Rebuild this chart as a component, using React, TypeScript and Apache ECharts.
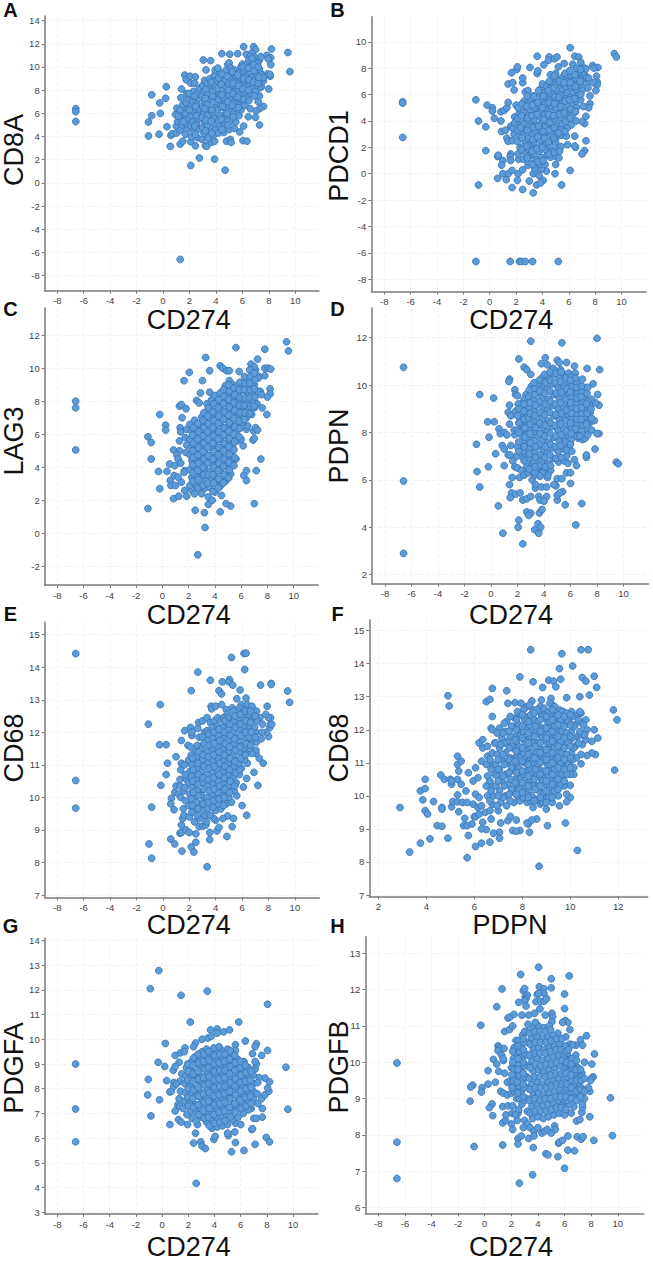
import React, { useEffect, useRef } from "react";
import * as echarts from "echarts";

const FONT = "'Liberation Sans', Arial, sans-serif";
const cd274Ticks = [-8, -6, -4, -2, 0, 2, 4, 6, 8, 10];
const pdpnTicks = [2, 4, 6, 8, 10, 12];
const ticksA = [-8, -6, -4, -2, 0, 2, 4, 6, 8, 10, 12, 14];
const ticksB = [-8, -6, -4, -2, 0, 2, 4, 6, 8, 10];
const ticksC = [-2, 0, 2, 4, 6, 8, 10, 12];
const ticksD = [2, 4, 6, 8, 10, 12];
const ticksE = [7, 8, 9, 10, 11, 12, 13, 14, 15];
const ticksF = [7, 8, 9, 10, 11, 12, 13, 14, 15];
const ticksG = [3, 4, 5, 6, 7, 8, 9, 10, 11, 12, 13, 14];
const ticksH = [6, 7, 8, 9, 10, 11, 12, 13];

const cd8a = [[-6.6,6.4],[-6.6,6.15],[-6.6,5.3],[1.3,-6.6],[9.45,11.25],[9.6,9.6],[2.1,1.5],[2.75,2.15],[3.9,2.05],[4.7,1.1],[0.55,3.15],[-1.1,4.05],[-0.3,4.2],[0.6,4.1],[0.7,4.25],[1,4.3],[0.3,4.85],[-1.1,5.25],[-0.85,5.8],[-0.2,6],[-0.25,6.9],[0.2,7.3],[-0.85,7.6],[0.25,8.3],[1.4,8.1],[1.65,9.3],[1.75,8.9],[2.05,9.2],[2.45,9.15],[3.05,10.6],[3.6,10.55],[3.25,9.75],[4.45,11.15],[5.05,11.1],[5.65,11.15],[6.1,11.75],[6.85,11.75],[7,11.5],[8.2,11.55],[7.85,11],[8.15,10.8],[7.95,10.7],[8.15,10.2],[8,8.1],[8.1,9.2],[7.3,5],[7,5.65],[6.45,5.7],[6.05,3.65],[6.35,3.6],[4.8,3.6],[5.1,3.75],[5.15,3.5],[2.1,3.55],[2.45,3.2],[3.2,3.2],[3.3,3.15],[1.3,3.35],[1.5,3.6],[3.65,3.5],[3.9,3.6],[6.1,4.9],[5.8,4.4],[7.6,6.6],[7.3,6.4],[7.05,6.2],[7.2,7],[6.6,6.4],[7.3,7.5],[7.45,8.3],[7.3,8.2],[7.6,8.8],[7.9,9.4],[8.1,9.35],[7.5,9.35],[6.9,10.9],[7.3,10.6],[7.4,10.9],[6.3,11.1],[6.7,11.2],[6.6,10.9],[2.1,8.6],
[1,4.9],[1.1,5.3],[0.95,5.9],[1.05,6.45],[1.3,4.55],[1.45,5],[1.35,5.5],[1.5,5.95],[1.3,6.3],[1.5,6.75],[1.35,7.35],[1.7,4.2],[1.85,4.7],[1.75,5.15],[1.9,5.55],[1.7,6],[1.85,6.4],[1.75,6.9],[1.9,7.3],[1.8,7.7],[2.15,4],[2.3,4.4],[2.1,4.9],[2.25,5.3],[2.15,5.8],[2.3,6.2],[2.1,6.65],[2.25,7.05],[2.2,7.5],[2.3,7.9],[2.4,8.6],[2.6,3.9],[2.7,4.65],[2.55,5.1],[2.7,5.55],[2.6,5.95],[2.75,6.4],[2.55,6.85],[2.7,7.3],[2.6,7.7],[2.75,8.15],[2.95,3.75],[3.1,4.25],[3,4.75],[3.15,5.2],[2.95,5.65],[3.1,6.1],[3,6.6],[3.15,7],[2.95,7.5],[3.1,7.9],[3,8.4],[3.15,8.85],[3.4,3.85],[3.5,4.5],[3.35,4.95],[3.55,5.4],[3.4,5.85],[3.5,6.35],[3.35,6.8],[3.55,7.25],[3.4,7.7],[3.5,8.15],[3.35,8.6],[3.55,9],[3.8,4.1],[3.95,4.65],[3.8,5.1],[3.9,5.6],[3.75,6.05],[3.95,6.5],[3.8,7],[3.9,7.45],[3.75,7.9],[3.95,8.35],[3.8,8.85],[3.9,9.3],[3.95,9.75],[4.2,4.3],[4.35,4.85],[4.2,5.35],[4.3,5.8],[4.15,6.3],[4.35,6.75],[4.2,7.2],[4.3,7.7],[4.15,8.15],[4.35,8.6],[4.2,9.05],[4.3,9.5],[4.15,9.9],[4.6,4.35],[4.7,5.05],[4.55,5.55],[4.75,6],[4.6,6.5],[4.7,6.95],[4.55,7.4],[4.75,7.85],[4.6,8.35],[4.7,8.8],[4.55,9.3],[4.75,9.7],[4.9,10.2],[5,10.35],[5,4.6],[5.1,5.3],[4.95,5.8],[5.15,6.25],[5,6.7],[5.1,7.2],[4.95,7.65],[5.15,8.1],[5,8.55],[5.1,9.05],[5.2,9.5],[5.15,9.9],[5.4,4.7],[5.5,5.25],[5.35,6],[5.5,6.45],[5.4,6.95],[5.5,7.4],[5.35,7.85],[5.55,8.35],[5.4,8.8],[5.5,9.25],[5.4,9.75],[5.75,5.8],[5.9,6.3],[5.75,6.75],[5.9,7.2],[5.75,7.65],[5.95,8.1],[5.75,8.6],[5.9,9.05],[5.75,9.5],[5.9,10],[6,10.25],[6.2,6.7],[6.3,7.4],[6.15,7.85],[6.3,8.3],[6.15,8.8],[6.3,9.3],[6.15,9.7],[6.3,10.2],[6.5,10.6],[6.6,7.75],[6.7,8.2],[6.55,8.65],[6.7,9.15],[6.55,9.6],[6.7,10.05],[6.85,10.5],[6.75,10.7],[7,7.9],[7.1,8.45],[6.95,8.9],[7.1,9.4],[7,9.85],[7.15,10.3],[7.3,9.8],[7.45,9.3],[7.4,9],[7.6,9.1]];
const cd8aFill = [[2.45,4.2],[2.4,4.9],[2.5,5.8],[2.45,6.6],[2.4,7.5],[3.2,4.5],[3.25,5.4],[3.15,6.4],[3.2,7.3],[3.25,8.1],[3.7,4.3],[3.65,5.3],[3.7,6.3],[3.75,7.5],[3.65,8.7],[4.45,4.6],[4.4,5.5],[4.5,6.6],[4.45,7.6],[4.4,8.5],[4.45,9.4],[4.9,5],[4.85,6],[4.9,7],[4.95,8],[4.85,9.2],[5.3,5.7],[5.25,6.7],[5.3,7.7],[5.3,8.6],[5.25,9.6],[5.7,6.5],[5.65,7.4],[5.7,8.4],[5.65,9.3],[6.1,7.2],[6.05,8.1],[6.1,9],[6.05,10],[6.5,7.1],[6.45,8],[6.5,8.9],[6.45,9.9],[6.9,7.5],[6.85,8.7],[6.9,9.7],[6.85,10.2],[7.2,8.6],[7.25,9.1],[7.2,10],[2,6.3],[1.95,7.7],[1.55,5.3],[1.15,5.75]];

const pdcd1 = [[-6.6,5.45],[-6.6,5.35],[-6.6,2.75],[-1.05,-6.65],[1.55,-6.65],[2.25,-6.65],[2.4,-6.65],[2.7,-6.65],[3.25,-6.65],[5.2,-6.65],[9.45,9.1],[9.6,8.85],[-0.85,-0.85],[-0.3,1.75],[-1.05,5.6],[-0.2,5.2],[0.2,5],[0.2,4.75],[0.35,4.2],[-0.85,4],[-0.3,3.55],[0.85,4],[0.85,4.7],[1.1,4.8],[1.3,5],[1.4,5.4],[0.6,1.3],[0.65,1.4],[1,1],[0.9,0.65],[1,0],[0.6,-0.35],[1.4,0],[1.25,-0.45],[1.7,-1.05],[2.5,-1.2],[3.3,-1.45],[3,-0.55],[2.1,-0.5],[1.7,0.25],[2.15,0],[3.55,-0.85],[5.45,-0.85],[6.1,0.25],[1.4,6.8],[1.75,6.9],[1.85,6.35],[2.5,6.9],[2.5,7.25],[1.65,7.65],[2.05,7.9],[2.1,8.1],[3.05,8.05],[3.6,7.6],[3.65,7.8],[3.6,8.9],[4.5,8.85],[4.45,8.6],[4.9,8.7],[5.1,8.85],[5.65,8.35],[6.1,9.55],[6.45,8.9],[6.75,8.85],[6.3,8.3],[4.1,8.25],[5.2,8.1],[7.8,8.2],[8.2,8.05],[7.9,8],[8.1,7.4],[8.15,6.95],[8.15,6.75],[8.05,6.3],[7.85,6.9],[7.6,5.9],[7.6,5.3],[7.5,5],[7.3,4.35],[7.2,3.8],[7,3.95],[7.3,2.5],[7.2,1.75],[7,1.5],[6.5,2],[6.45,2.85],[6.45,2.1],[5.9,2.2],[5,0.7],[4.95,0],[4.3,0.2],[4.05,-0.5],[3.85,-0.7],[3.9,0.35],[3.3,0],[3.55,0.1],[3.75,-0.15],[2.5,0.3],[1.6,1.5],[1.55,1.3],[1.6,1],[2.2,1.1],[2.9,0.65],[0.9,3.2],[1.2,3.3],[1.3,2.7],[1.4,2.45],[1.6,3.6],[1.9,4.3],[2,5.2],[2.6,5.5],[2.7,6.2],[2.9,6.3],[3.3,5.9],
[1.7,2.5],[1.85,3],[1.75,3.45],[1.9,3.85],[2.15,1.5],[2.3,2],[2.1,2.45],[2.25,2.9],[2.15,3.3],[2.3,3.75],[2.1,4.2],[2.25,4.6],[2.15,5],[2.55,1.1],[2.7,1.6],[2.55,2.05],[2.7,2.5],[2.55,2.95],[2.7,3.35],[2.55,3.8],[2.7,4.25],[2.55,4.65],[2.7,5.1],[2.95,0.9],[3.1,1.4],[2.95,1.85],[3.1,2.25],[2.95,2.7],[3.1,3.15],[2.95,3.55],[3.1,4],[2.95,4.45],[3.1,4.85],[2.95,5.3],[3.1,5.7],[3.4,0.4],[3.5,1.05],[3.35,1.5],[3.5,1.95],[3.35,2.4],[3.55,2.8],[3.4,3.25],[3.5,3.7],[3.35,4.1],[3.55,4.55],[3.4,5],[3.5,5.4],[3.35,5.85],[3.8,0.7],[3.9,1.25],[3.75,1.7],[3.95,2.15],[3.8,2.55],[3.9,3],[3.75,3.45],[3.95,3.85],[3.8,4.3],[3.9,4.75],[3.75,5.15],[3.95,5.6],[3.8,6],[3.9,6.45],[4,6.8],[4.2,0.7],[4.35,1.4],[4.2,1.85],[4.3,2.3],[4.15,2.7],[4.35,3.15],[4.2,3.6],[4.3,4],[4.15,4.45],[4.35,4.9],[4.2,5.3],[4.3,5.75],[4.15,6.15],[4.35,6.6],[4.6,1.25],[4.7,1.75],[4.55,2.15],[4.75,2.6],[4.6,3],[4.7,3.45],[4.55,3.9],[4.75,4.3],[4.6,4.75],[4.7,5.15],[4.55,5.6],[4.75,6],[4.6,6.45],[4.7,6.9],[4.6,7.5],[5,1.3],[5.1,1.9],[5,2.4],[5.15,2.85],[5,3.3],[5.1,3.7],[4.95,4.15],[5.15,4.55],[5,5],[5.1,5.4],[4.95,5.85],[5.15,6.3],[5,6.7],[5.1,7.15],[5,7.6],[5.25,1.2],[5.4,2.05],[5.45,2.9],[5.4,3.35],[5.5,3.8],[5.35,4.25],[5.55,4.7],[5.4,5.1],[5.5,5.55],[5.35,6],[5.55,6.4],[5.4,6.85],[5.5,7.3],[5.8,2.85],[5.9,3.5],[5.75,3.95],[5.9,4.4],[5.75,4.8],[5.95,5.25],[5.75,5.7],[5.9,6.15],[5.75,6.6],[5.9,7],[5.8,7.45],[6.2,3.7],[6.3,4.5],[6.15,4.9],[6.3,5.35],[6.15,5.8],[6.3,6.2],[6.15,6.65],[6.3,7.1],[6.15,7.5],[6.55,4],[6.6,5.05],[6.55,5.5],[6.7,5.95],[6.55,6.4],[6.7,6.85],[6.55,7.25],[6.7,7.65],[6.6,8],[6.9,5.6],[7,6.3],[6.85,6.75],[7,7.2],[6.9,7.7],[7.05,8.1],[6.9,8.45],[7.1,5.1],[7.3,6.8],[7.2,7.5],[7.35,7.3],[7.3,7.95],[7.5,7.25],[7.45,6.5]];
const pdcd1Fill = [[2.4,1.8],[2.45,2.7],[2.35,3.5],[2.4,4.4],[2.45,5.3],[2.85,1.2],[2.8,2.1],[2.85,3.3],[2.9,4.2],[2.8,5.1],[2.85,5.9],[3.25,0.7],[3.2,1.7],[3.25,2.6],[3.3,3.5],[3.2,4.4],[3.25,5.2],[3.65,0.9],[3.6,1.9],[3.65,2.8],[3.7,3.6],[3.6,4.5],[3.65,5.4],[3.7,6.3],[4.05,1],[4,2],[4.05,3.2],[4.1,4.1],[4,5],[4.05,5.9],[4.5,1.5],[4.45,2.4],[4.5,3.3],[4.45,4.5],[4.5,5.4],[4.45,6.3],[4.5,7],[4.9,1.6],[4.85,2.7],[4.9,3.5],[4.85,4.4],[4.9,5.3],[4.85,6.5],[4.9,7.4],[5.3,1.7],[5.25,3.1],[5.3,4.5],[5.25,5.8],[5.3,7],[5.7,3.2],[5.65,4.6],[5.7,5.5],[5.65,6.9],[5.7,7.6],[6.1,4.2],[6.05,5.6],[6.1,6.9],[6.05,7.8],[6.5,4.7],[6.45,5.7],[6.5,6.6],[6.45,7.5],[6.9,6],[6.85,7],[6.9,7.9]];

const lag3 = [[-6.6,8],[-6.6,7.6],[-6.6,5.05],[9.45,11.6],[9.6,11.05],[5.6,11.25],[7.8,11.15],[3.3,10.65],[7.25,10.55],[4.4,10.15],[4.6,10],[3.6,9.85],[2.05,9.75],[1.65,9.25],[3.05,9.25],[4.9,9.85],[5.1,9.85],[5.85,9.8],[6.75,10.25],[7.8,10],[8.05,10],[8.25,9.95],[7.8,9.55],[8.2,8.75],[8.2,8.45],[8,8.25],[7.45,8.6],[7.6,7.6],[7.95,7.2],[-0.2,7.2],[0.25,6.55],[0.25,6.25],[-1.1,5.85],[-0.85,5.5],[-0.85,4.5],[0.55,4.2],[-0.3,3.75],[0.35,3.75],[0.6,3.2],[0.65,2.9],[1,2.9],[-0.2,2.7],[0.85,2.1],[1.25,2.25],[-1.1,1.5],[2.5,1.4],[3.2,1.25],[4.4,1.3],[3.25,0.35],[2.7,-1.3],[7,1.8],[5.2,1.65],[4.85,1.8],[3.5,1.75],[7.5,4.5],[7.15,3.8],[6.4,3.8],[6.2,3.5],[6.4,3.2],[6.9,5.65],[7,5.75],[6.95,6.2],[7.1,6.4],[7.25,6.25],[6.4,6.3],[6.5,6.5],[1.3,7.7],[1.45,7.8],[1.8,7.55],[1.5,7],[2.6,8.05],[2.9,8.5],[2.8,7.9],[3.4,7.85],[0.85,5.05],[1.3,5.6],[1.35,6.4],[1.4,6.15],[1.3,5],[1.1,4.75],[0.95,4.1],[1.2,4.5],[1.4,4.25],[1.7,3.8],[1.65,3.7],[0.9,3.5],[1.2,3.4],[1.45,3.1],[1.7,2.6],[1.85,2.25],[2.25,2.6],[2.45,2.4],[3,2.4],[3.5,2.2],[3.8,2],[4.5,2.3],[7,7.6],[7.2,7.85],[7.3,8.6],[7.55,8.4],[7,9],[6.9,9.3],[7.35,9.5],[7.1,9.9],[7.3,9.4],
[1.8,4.9],[1.85,5.35],[1.75,5.8],[1.85,6.3],[2.1,2.9],[2.25,3.4],[2.1,3.85],[2.25,4.4],[2.1,4.75],[2.25,5.2],[2.1,5.7],[2.25,6.15],[2.1,6.6],[2.5,3],[2.6,3.55],[2.45,4],[2.6,4.5],[2.45,5],[2.6,5.45],[2.45,5.95],[2.6,6.4],[2.45,6.85],[2.85,2.8],[3,3.3],[2.85,3.75],[3,4.25],[2.85,4.7],[3,5.2],[2.85,5.65],[3,6.15],[2.85,6.6],[3,7.05],[3.25,2.75],[3.35,3.5],[3.2,4],[3.35,4.5],[3.2,4.95],[3.35,5.45],[3.2,5.9],[3.35,6.4],[3.2,6.85],[3.35,7.35],[3.6,2.8],[3.75,3.3],[3.6,3.75],[3.75,4.25],[3.6,4.7],[3.75,5.2],[3.6,5.7],[3.75,6.15],[3.6,6.65],[3.75,7.1],[3.6,7.6],[3.75,8.1],[3.6,8.55],[4,2.5],[4.15,3.05],[4,3.55],[4.15,4],[4,4.5],[4.15,5],[4,5.45],[4.15,5.95],[4,6.4],[4.15,6.9],[4,7.35],[4.15,7.85],[4,8.35],[4.4,2.85],[4.55,3.3],[4.4,3.8],[4.55,4.3],[4.4,4.75],[4.55,5.25],[4.4,5.7],[4.55,6.2],[4.4,6.65],[4.55,7.15],[4.4,7.6],[4.55,8.1],[4.4,8.5],[4.8,3.15],[4.95,3.55],[4.8,4.05],[4.95,4.55],[4.8,5],[4.95,5.5],[4.8,5.95],[4.95,6.45],[4.8,6.9],[4.95,7.4],[4.8,7.85],[4.95,8.35],[4.8,8.95],[5.1,9.25],[5.2,3.6],[5.3,4.35],[5.2,4.8],[5.35,5.3],[5.2,5.75],[5.35,6.25],[5.2,6.7],[5.35,7.2],[5.2,7.65],[5.35,8.15],[5.2,8.6],[5.35,9],[5.6,4.5],[5.75,5.6],[5.6,6.1],[5.75,6.55],[5.6,7],[5.75,7.5],[5.6,7.95],[5.75,8.45],[5.6,8.9],[6,5.7],[6.15,5.3],[6.1,6.7],[6,7.2],[6.15,7.7],[6,8.15],[6.15,8.65],[6,9.1],[6.4,7],[6.55,7.5],[6.4,7.95],[6.55,8.45],[6.4,8.9],[6.55,9.2],[6.8,7.2],[6.85,8],[6.8,8.5],[6.85,9],[6.85,9.8],[7,10.1]];
const lag3Fill = [[2.3,3.15],[2.35,3.65],[2.3,4.15],[2.35,4.6],[2.3,5],[2.35,5.45],[2.3,5.95],[2.35,6.4],[2.7,2.75],[2.75,3.25],[2.7,3.8],[2.75,4.25],[2.7,4.75],[2.75,5.2],[2.7,5.7],[2.75,6.15],[2.7,6.65],[3.1,2.9],[3.15,3.55],[3.1,4],[3.15,4.5],[3.1,4.95],[3.15,5.45],[3.1,5.9],[3.15,6.4],[3.1,6.85],[3.15,7.3],[3.45,3.05],[3.5,3.55],[3.45,4.25],[3.5,4.7],[3.45,5.2],[3.5,5.7],[3.45,6.15],[3.5,6.65],[3.45,7.1],[3.5,7.6],[3.85,2.55],[3.9,3.05],[3.85,3.55],[3.9,4],[3.85,4.5],[3.9,4.95],[3.85,5.45],[3.9,5.9],[3.85,6.4],[3.9,6.85],[3.85,7.35],[3.9,7.85],[4.25,2.75],[4.3,3.3],[4.25,3.8],[4.3,4.25],[4.25,4.75],[4.3,5.2],[4.25,5.7],[4.3,6.15],[4.25,6.65],[4.3,7.1],[4.25,7.6],[4.3,8.1],[4.65,3.05],[4.7,3.55],[4.65,4.05],[4.7,4.5],[4.65,5],[4.7,5.45],[4.65,5.95],[4.7,6.4],[4.65,6.9],[4.7,7.35],[4.65,7.85],[4.7,8.3],[4.65,8.7],[5.05,3.35],[5.1,3.85],[5.05,4.3],[5.1,4.8],[5.05,5.25],[5.1,5.75],[5.05,6.2],[5.1,6.7],[5.05,7.15],[5.1,7.65],[5.05,8.1],[5.1,8.6],[5.05,9],[5.45,4.1],[5.5,4.6],[5.45,5.05],[5.5,5.55],[5.45,6],[5.5,6.45],[5.45,6.95],[5.5,7.45],[5.45,7.9],[5.5,8.4],[5.45,8.8],[5.85,5.85],[5.9,6.35],[5.85,6.8],[5.9,7.3],[5.85,7.75],[5.9,8.2],[5.85,8.7],[5.9,9.15],[6.25,6.9],[6.3,7.3],[6.25,7.75],[6.3,8.2],[6.25,8.7],[6.3,9.1],[6.25,9.5],[6.65,7.25],[6.7,7.7],[6.65,8.2],[6.7,8.7],[6.65,9.1],[6.7,9.5],[6.65,9.9],[7,7.7],[7.05,8.25],[7,8.75],[7.05,9.3],[7,9.7]];

const pdpn = [[-6.6,10.75],[-6.6,5.95],[-6.6,2.9],[9.45,6.75],[9.6,6.68],[3,11.85],[5.35,11.78],[8,11.97],[2.1,11.1],[4.1,11.15],[3.8,10.9],[4.25,10.85],[5,11.05],[5.15,10.95],[5.7,10.95],[6.3,10.8],[7.25,10.7],[8.2,10.65],[2.5,10.75],[2.7,10.65],[3,10.45],[1.4,10.25],[1.35,10.15],[-0.85,9.6],[0.2,9.45],[1.4,9.15],[1.8,9.8],[1.85,9.6],[2,9.55],[-0.25,8.45],[0.25,8.45],[1.3,8.85],[1.4,8.35],[0.6,8.15],[0.7,7.95],[1,8],[1.2,7.9],[-0.15,7.8],[-1.1,7.5],[0.85,7.45],[1,7.3],[1.5,7.45],[0.35,7.1],[1.3,7.05],[1.45,7.05],[-0.2,6.55],[1,6.6],[-1.05,6.35],[-0.85,5.7],[1.6,6.1],[2.15,6.1],[1.4,5.8],[1.55,5.45],[1.45,5.25],[1.85,5.4],[2.2,5.45],[0.55,4.9],[2.4,5.15],[2.7,5.2],[3,5.3],[3.6,5.3],[4.2,5.3],[3.7,5.15],[4,5.1],[2.7,4.65],[3,4.6],[2.85,4.5],[3.65,4.6],[3.85,4.75],[2.1,4.3],[2.05,4],[3.55,4.15],[3.75,4],[3.3,3.9],[3.6,3.75],[0.9,3.75],[2.4,3.3],[6.4,4.1],[5.6,4.95],[5,5.15],[5,5.35],[4.9,5.75],[5.4,5.5],[5.2,5.45],[6,5.85],[6.85,5],[5,6.05],[5.35,6.05],[5.7,6.3],[6,6.3],[6.45,6.6],[6.3,6.85],[7.2,6.95],[7.2,7.05],[7.85,7.3],[8.15,7.95],[8,7.95],[7.6,8.1],[7.8,8.5],[8.15,9.15],[7.9,9.25],[7.6,9.4],[8.05,9.6],[7.7,10.05],[7.1,9.9],[6.9,10.25],[3.35,5.65],[3.35,5.8],[3.8,5.7],[4.2,5.7],[4.75,5.8],[1.65,6.8],[1.8,6.55],[2,6.5],[2.3,6.4],[2.5,6.2],[2.8,6.3],[3.1,6],[3.3,6.2],[3.8,6.4],[4.3,6.35],[4.5,6.4],[4.25,6.1],[4.3,6.2],[1.8,7.9],[1.75,8.1],[2,8.1],[2.2,8.5],[1.5,8.7],[1.85,8.9],
[2.3,7],[2.25,7.45],[2.3,7.9],[2.25,8.35],[2.3,8.8],[2.25,9.2],[2.7,6.55],[2.65,7],[2.75,7.45],[2.65,7.9],[2.75,8.35],[2.65,8.8],[2.75,9.25],[2.65,9.6],[3.1,6.7],[3.05,7.2],[3.15,7.65],[3.05,8.1],[3.15,8.55],[3.05,9],[3.15,9.45],[3.05,9.95],[3.5,6.5],[3.45,6.95],[3.55,7.4],[3.45,7.85],[3.55,8.3],[3.45,8.75],[3.55,9.2],[3.45,9.65],[3.55,10.05],[3.9,6.3],[3.85,6.75],[3.95,7.2],[3.85,7.65],[3.95,8.1],[3.85,8.55],[3.95,9],[3.85,9.45],[3.95,9.9],[3.85,10.3],[4.3,6.7],[4.25,7.15],[4.35,7.6],[4.25,8.05],[4.35,8.5],[4.25,8.95],[4.35,9.4],[4.25,9.85],[4.35,10.25],[4.7,6.9],[4.65,7.35],[4.75,7.8],[4.65,8.25],[4.75,8.7],[4.65,9.15],[4.75,9.6],[4.65,10.05],[4.75,10.45],[4.7,10.7],[5.1,6.75],[5.05,7.2],[5.15,7.65],[5.05,8.1],[5.15,8.55],[5.05,9],[5.15,9.45],[5.05,9.9],[5.15,10.3],[5.25,10.65],[5.5,6.8],[5.45,7.3],[5.55,7.75],[5.45,8.2],[5.55,8.65],[5.45,9.1],[5.55,9.55],[5.45,10],[5.55,10.45],[5.9,7.4],[5.85,7.85],[5.95,8.3],[5.85,8.75],[5.95,9.2],[5.85,9.65],[5.95,10.1],[5.85,10.5],[5.7,7],[5.8,6.7],[6.3,7.95],[6.25,8.4],[6.35,8.85],[6.25,9.3],[6.35,9.75],[6.25,10.2],[6.35,10.5],[6.7,8.1],[6.65,8.55],[6.75,9],[6.65,9.45],[6.75,9.9],[7.1,8.15],[7.05,8.6],[7.15,9.05],[7.05,9.5],[7.45,8.4],[7.5,8.85],[7.45,9.15],[6.6,7.75],[6.9,7.7],[7.1,7.75]];
const pdpnFill = [[2.45,7.2],[2.5,7.65],[2.45,8.15],[2.5,8.55],[2.45,9],[2.5,9.4],[2.9,6.45],[2.85,6.9],[2.9,7.3],[2.85,7.75],[2.9,8.15],[2.85,8.6],[2.9,9.05],[2.85,9.5],[2.9,9.8],[3.3,6.3],[3.25,6.75],[3.3,7.15],[3.25,7.65],[3.3,8.05],[3.25,8.5],[3.3,8.95],[3.25,9.4],[3.3,9.85],[3.25,10.1],[3.7,6.15],[3.65,6.6],[3.7,7.05],[3.65,7.5],[3.7,7.95],[3.65,8.4],[3.7,8.85],[3.65,9.3],[3.7,9.75],[3.65,10.2],[4.1,6.55],[4.05,6.95],[4.1,7.4],[4.05,7.85],[4.1,8.3],[4.05,8.75],[4.1,9.2],[4.05,9.65],[4.1,10.1],[4.05,10.45],[4.5,6.6],[4.45,7.05],[4.5,7.5],[4.45,7.95],[4.5,8.4],[4.45,8.85],[4.5,9.3],[4.45,9.75],[4.5,10.2],[4.45,10.55],[4.9,6.9],[4.85,7.4],[4.9,7.85],[4.85,8.3],[4.9,8.75],[4.85,9.2],[4.9,9.65],[4.85,10.1],[4.9,10.5],[5.3,6.95],[5.25,7.45],[5.3,7.9],[5.25,8.35],[5.3,8.8],[5.25,9.25],[5.3,9.7],[5.25,10.15],[5.3,10.55],[5.7,7.25],[5.65,7.6],[5.7,8.05],[5.65,8.5],[5.7,8.95],[5.65,9.4],[5.7,9.85],[5.65,10.3],[6.1,7.2],[6.05,7.7],[6.1,8.15],[6.05,8.6],[6.1,9.05],[6.05,9.5],[6.1,9.95],[6.05,10.35],[6.5,7.85],[6.45,8.35],[6.5,8.75],[6.45,9.2],[6.5,9.65],[6.45,10.1],[6.9,8.3],[6.85,8.8],[6.9,9.25],[6.85,9.7],[7.3,8.4],[7.25,8.9],[7.3,9.3],[2,7.4],[2,8.7],[1.95,7],[2.05,9.2],
[2.1,7.2],[2.1,7.6],[2.1,8],[2.1,8.4],[2.1,9],[2.5,6.8],[2.5,7.4],[2.55,7.8],[2.55,8.2],[2.5,8.9],[2.5,9.2],[2.9,7.1],[2.95,7.55],[2.95,7.95],[2.95,8.35],[2.95,8.8],[2.95,9.25],[3.3,6.55],[3.35,6.95],[3.35,7.4],[3.35,8.2],[3.3,8.7],[3.35,9.15],[3.3,9.6],[6,7.5],[6.05,7.95],[6,8.4],[6.05,8.8],[6,9.25],[6,9.7],[6,10.2],[6.4,8.15],[6.5,8.55],[6.45,9],[6.5,9.45],[6.45,9.9],[6.4,10.3],[6.85,8.05],[6.8,8.55],[6.85,9.05],[6.8,9.5],[6.85,9.95],[7.2,8.35],[7.25,8.8],[7.2,9.2],[7.25,9.65],[7.6,8.6],[7.55,9],[7.3,7.9],[6.7,7.85],[7.3,9.9]];

const cd68a = [[-6.6,14.42],[-6.6,10.52],[-6.6,9.67],[9.45,13.27],[9.6,12.92],[5.2,14.3],[6.15,14.42],[6.3,14.43],[6.2,13.93],[2.65,13.85],[3.6,13.6],[4.5,13.55],[5.05,13.62],[5,13.55],[5.3,13.45],[5.85,13.3],[7.4,13.45],[8.2,13.5],[8.2,13.47],[2.15,13.28],[4.25,13.28],[4.45,13.18],[-0.2,12.85],[-1.1,12.25],[-0.25,11.62],[0.25,11.62],[1,11.25],[0.35,11.05],[0.25,10.7],[-0.15,10.37],[-0.85,9.7],[0.65,9.97],[0.6,9.8],[0.85,9.62],[0.9,10.15],[1,10.35],[1.3,10.35],[0.6,8.72],[0.9,8.57],[-1.05,8.57],[-0.85,8.13],[1.45,8.35],[2.15,8.48],[2.35,8.32],[2.5,8.62],[2.5,8.88],[3.55,8.7],[4.85,8.8],[3.35,7.87],[1.3,8.9],[1.4,8.92],[1.75,9],[2,8.92],[3.55,8.92],[4.1,8.97],[4.25,9.08],[5.25,9.1],[6.35,9.45],[5.35,9.35],[4.9,9.43],[4.55,9.35],[4,9.3],[3.85,9.35],[2.75,9.1],[3.05,9.12],[3.25,9.15],[3.3,9.25],[1.4,9.15],[1.5,9.35],[1.6,9.45],[7.2,10.37],[6.1,10.32],[6.35,10.58],[6.9,10.77],[7.3,11.2],[7.6,11.05],[7.05,11.35],[7.05,11.45],[8,11.87],[8.1,12.15],[8.15,12.25],[8.25,12.25],[7.85,12],[8.15,12.45],[8,12.45],[7.8,12.55],[7.9,12.8],[7.35,12.45],[1.4,11.75],[1.65,12.05],[2.1,12.15],[1.9,11.6],[2.1,11.55],[2.2,11.9],[2.2,12],[2.65,12.12],[2.7,12.3],[3,12.35],[3.35,12.45],[3.6,12.3],[3.9,12.35],[4.15,12.45],[3.65,12.8],[3.7,12.72],[4,12.8],[4.45,12.85],[4.8,12.7],[5.25,12.75],[5.6,13.03],[6.3,13.05],[5.95,12.85],[1.35,10.85],[1.4,11.05],[1.3,10.55],[1.6,10.2],[1.8,10.55],[1.2,10.1],[1.35,10],[1.55,9.65],
[2,9.4],[1.95,9.75],[2.05,10.1],[1.95,10.45],[2.05,10.8],[1.95,11.15],[2.4,9.25],[2.35,9.65],[2.45,10],[2.35,10.35],[2.45,10.7],[2.35,11.05],[2.45,11.4],[2.8,9.35],[2.75,9.8],[2.85,10.15],[2.75,10.5],[2.85,10.85],[2.75,11.2],[2.85,11.55],[2.75,11.85],[3.2,9.45],[3.15,9.95],[3.25,10.3],[3.15,10.65],[3.25,11],[3.15,11.35],[3.25,11.7],[3.15,12],[3.6,9.45],[3.55,9.8],[3.65,10.15],[3.55,10.5],[3.65,10.85],[3.55,11.2],[3.65,11.55],[3.55,11.9],[4,9.6],[3.95,10],[4.05,10.35],[3.95,10.7],[4.05,11.05],[3.95,11.4],[4.05,11.75],[3.95,12.1],[4.4,9.65],[4.35,9.95],[4.45,10.3],[4.35,10.65],[4.45,11],[4.35,11.35],[4.45,11.7],[4.35,12.05],[4.45,12.4],[4.8,9.8],[4.75,10.15],[4.85,10.5],[4.75,10.85],[4.85,11.2],[4.75,11.55],[4.85,11.9],[4.75,12.25],[4.85,12.55],[5.2,9.85],[5.15,10.3],[5.25,10.65],[5.15,11],[5.25,11.35],[5.15,11.7],[5.25,12.05],[5.15,12.4],[5.6,10.05],[5.55,10.45],[5.65,10.8],[5.55,11.15],[5.65,11.5],[5.55,11.85],[5.65,12.2],[5.55,12.55],[6,9.75],[5.95,10.9],[6.05,11.25],[5.95,11.6],[6.05,11.95],[5.95,12.3],[6.05,12.6],[6.4,11.05],[6.35,11.4],[6.45,11.75],[6.35,12.1],[6.45,12.45],[6.4,12.85],[6.75,11.35],[6.7,11.7],[6.8,12.05],[6.7,12.4],[6.75,12.8],[7.1,11.7],[7.05,12],[7.15,12.35],[7.1,12.65],[7.5,12],[7.55,12.25],[7.45,11.8]];
const cd68aFill = [[2.2,9.55],[2.15,9.95],[2.2,10.3],[2.15,10.65],[2.2,11],[2.15,11.3],[2.6,9.45],[2.55,9.85],[2.6,10.2],[2.55,10.55],[2.6,10.9],[2.55,11.25],[2.6,11.6],[3,9.6],[2.95,10.05],[3,10.45],[2.95,10.8],[3,11.15],[2.95,11.5],[3,11.85],[3.4,9.65],[3.35,10],[3.4,10.35],[3.35,10.7],[3.4,11.05],[3.35,11.4],[3.4,11.75],[3.35,12.05],[3.8,9.7],[3.75,10.1],[3.8,10.45],[3.75,10.8],[3.8,11.15],[3.75,11.5],[3.8,11.85],[3.75,12.15],[4.2,9.8],[4.15,10.15],[4.2,10.5],[4.15,10.85],[4.2,11.2],[4.15,11.55],[4.2,11.9],[4.15,12.2],[4.6,9.75],[4.55,10.05],[4.6,10.4],[4.55,10.75],[4.6,11.1],[4.55,11.45],[4.6,11.8],[4.55,12.15],[4.6,12.45],[5,10],[4.95,10.35],[5,10.7],[4.95,11.05],[5,11.4],[4.95,11.75],[5,12.1],[4.95,12.45],[5.4,10.2],[5.35,10.6],[5.4,10.95],[5.35,11.3],[5.4,11.65],[5.35,12],[5.4,12.35],[5.35,12.65],[5.8,10.7],[5.75,11.05],[5.8,11.4],[5.75,11.75],[5.8,12.1],[5.75,12.45],[5.8,12.75],[6.2,11.15],[6.15,11.5],[6.2,11.85],[6.15,12.2],[6.2,12.55],[6.15,12.7],[6.6,11.5],[6.55,11.85],[6.6,12.2],[6.55,12.55],[7,11.85],[6.95,12.15],[7,12.5],[1.7,9.9],[1.65,10.3],[1.7,10.7],[1.65,11],
[2.25,9.75],[2.3,10.15],[2.25,10.5],[2.3,10.85],[2.25,11.2],[2.65,9.65],[2.7,10.05],[2.65,10.4],[2.7,10.7],[2.65,11.05],[2.7,11.4],[3.05,9.8],[3.1,10.25],[3.05,10.6],[3.1,10.95],[3.05,11.3],[3.1,11.65],[3.45,9.85],[3.5,10.2],[3.45,10.55],[3.5,10.9],[3.45,11.25],[3.5,11.6],[3.45,11.95],[3.85,9.9],[3.9,10.25],[3.85,10.6],[3.9,10.95],[3.85,11.3],[3.9,11.65],[3.85,12],[4.25,9.95],[4.3,10.35],[4.25,10.7],[4.3,11.05],[4.25,11.4],[4.3,11.75],[4.25,12.1],[4.65,10],[4.7,10.25],[4.65,10.6],[4.7,10.95],[4.65,11.3],[4.7,11.65],[4.65,12],[4.7,12.35],[5.05,10.15],[5.1,10.5],[5.05,10.85],[5.1,11.2],[5.05,11.55],[5.1,11.9],[5.05,12.25],[5.45,10.35],[5.5,10.75],[5.45,11.1],[5.5,11.45],[5.45,11.8],[5.5,12.15],[5.45,12.5],[5.85,10.85],[5.9,11.2],[5.85,11.55],[5.9,11.9],[5.85,12.25],[5.9,12.55],[6.25,11.3],[6.3,11.65],[6.25,12],[6.3,12.35],[6.25,12.65],[6.65,11.6],[6.7,12],[6.65,12.3],[6.65,12.65]];

const cd68b = [[8.35,14.42],[9.65,14.3],[10.45,14.42],[10.75,14.42],[10.1,13.93],[9.55,13.85],[7.9,13.6],[8.45,13.45],[9.1,13.5],[9.3,13.47],[9.6,13.53],[9.4,13.3],[10.5,13.58],[10.65,13.47],[11,13.62],[8.85,13.28],[6.75,13.25],[7.35,13.18],[11.1,13.28],[10.4,13],[10.8,13.05],[9.85,12.97],[4.9,13.03],[4.95,12.72],[6.5,12.85],[6.65,12.92],[7.4,12.8],[7.7,12.82],[7.95,12.8],[8.4,12.87],[8.8,12.9],[9.2,12.95],[11.8,12.6],[11.95,12.3],[11,12],[11.15,11.75],[11.85,10.78],[11.05,11.25],[10.9,11.3],[10.7,11.22],[10.45,11.25],[10.45,10.97],[10.15,10.85],[10.15,10.65],[10,10.32],[10,9.95],[9.85,10.05],[9.85,9.82],[9.8,9.18],[9.55,9.7],[9.05,9.1],[8.3,8.9],[8.25,9.15],[8.2,9.18],[7.9,8.95],[7.6,8.95],[7.75,8.93],[10.3,8.35],[8.7,7.87],[5.7,8.13],[6.05,8.47],[6.3,8.57],[6.65,8.6],[7.05,8.72],[7.05,8.9],[6.8,8.87],[6.5,8.98],[6.3,9],[6.35,9.2],[6.7,9.3],[7.1,9.18],[7.4,9.25],[7.75,9.27],[7.5,9.38],[8.6,9.3],[8.4,9.27],[3.3,8.3],[3.75,8.57],[4.15,8.7],[4.9,8.72],[5.75,8.8],[4.45,9.1],[4.65,9.08],[5.55,9.1],[5.7,9.1],[5.9,9.15],[2.9,9.65],[3.95,9.55],[4.05,9.45],[4.65,9.65],[4.65,9.6],[5.35,9.52],[5.6,9.32],[6,9.37],[6.05,9.37],[3.95,10.5],[3.75,10.15],[3.95,10.22],[3.85,9.88],[4.3,9.83],[4.6,10.63],[4.75,10.5],[5.05,9.67],[5.1,9.83],[5.3,9.82],[5.3,10.03],[5.05,10.35],[5,10.5],[5.45,10.35],[5.3,10.5],[5.05,10.45],[5.65,10.15],[5.75,10.7],[5.3,10.95],[5.45,11.05],[5.3,11.2],[5.35,10.75],[5.95,10.45],[6.15,10.55],[6.05,10.85],[6.3,11.05],[6.35,11.45],[6.2,11.6],[6.35,11.7],[6.55,11.5],[6.75,12.4],[6.7,12.05],[6.75,12],[5.5,9.8],[5.7,9.8],[5.95,9.75],[6.05,10.05],[6.2,9.95],[6.15,9.65],[6.3,9.7],[6.45,9.5],[6.2,9.45],[6.65,9.55],[6.75,9.75],[7,9.55],
[6.55,10],[6.5,10.3],[6.55,10.6],[6.5,10.95],[6.55,11.2],[6.8,10],[6.75,10.3],[6.85,10.65],[6.8,10.95],[6.75,11.3],[6.85,11.6],[7.1,9.8],[7.05,10.15],[7.15,10.45],[7.05,10.8],[7.15,11.1],[7.05,11.45],[7.15,11.75],[7.05,12.05],[7.35,9.7],[7.3,10],[7.4,10.35],[7.3,10.65],[7.4,11],[7.3,11.3],[7.4,11.65],[7.3,11.95],[7.35,12.25],[7.65,9.8],[7.6,10.15],[7.7,10.5],[7.6,10.8],[7.7,11.15],[7.6,11.45],[7.7,11.8],[7.6,12.1],[7.7,12.35],[7.9,9.85],[7.85,10.2],[7.95,10.55],[7.85,10.85],[7.95,11.2],[7.85,11.5],[7.95,11.85],[7.85,12.15],[7.95,12.45],[8.2,9.8],[8.15,10.1],[8.25,10.45],[8.15,10.75],[8.25,11.1],[8.15,11.4],[8.25,11.75],[8.15,12.05],[8.25,12.4],[8.2,12.7],[8.45,9.65],[8.4,10],[8.5,10.35],[8.4,10.65],[8.5,11],[8.4,11.3],[8.5,11.65],[8.4,11.95],[8.5,12.3],[8.45,12.6],[8.75,9.75],[8.7,10.15],[8.8,10.5],[8.7,10.8],[8.8,11.15],[8.7,11.45],[8.8,11.8],[8.7,12.1],[8.8,12.45],[8.75,12.7],[9,9.6],[8.95,9.95],[9.05,10.3],[8.95,10.6],[9.05,10.95],[8.95,11.25],[9.05,11.6],[8.95,11.9],[9.05,12.25],[8.95,12.55],[9.25,9.8],[9.2,10.15],[9.3,10.5],[9.2,10.8],[9.3,11.15],[9.2,11.45],[9.3,11.8],[9.2,12.1],[9.3,12.45],[9.25,12.75],[9.5,10],[9.45,10.35],[9.55,10.65],[9.45,11],[9.55,11.3],[9.45,11.65],[9.55,11.95],[9.45,12.3],[9.55,12.6],[9.75,10.3],[9.7,10.6],[9.8,10.95],[9.7,11.25],[9.8,11.6],[9.7,11.9],[9.8,12.25],[9.7,12.55],[10,10.65],[9.95,11],[10.05,11.3],[9.95,11.65],[10.05,11.95],[9.95,12.3],[10.05,12.55],[10.25,11.15],[10.2,11.5],[10.3,11.8],[10.2,12.15],[10.3,12.45],[10.5,11.55],[10.45,11.85],[10.5,12.2],[10.45,12.5],[10.65,11.7],[10.7,12],[10.65,12.3],[10.9,11.65]];
const cd68bFill = [[6.65,9.85],[6.7,10.15],[6.65,10.45],[6.7,10.8],[6.65,11.1],[6.95,9.7],[6.9,10.3],[6.95,10.6],[6.9,10.95],[6.95,11.25],[6.9,11.6],[6.95,11.9],[7.2,9.95],[7.25,10.3],[7.2,10.6],[7.25,10.95],[7.2,11.25],[7.25,11.6],[7.2,11.9],[7.25,12.2],[7.5,9.85],[7.55,10.2],[7.5,10.5],[7.55,10.85],[7.5,11.15],[7.55,11.5],[7.5,11.8],[7.55,12.1],[7.5,12.4],[7.8,10],[7.75,10.35],[7.8,10.7],[7.75,11],[7.8,11.35],[7.75,11.65],[7.8,12],[7.75,12.3],[7.8,12.55],[8.05,9.95],[8.1,10.3],[8.05,10.65],[8.1,11],[8.05,11.3],[8.1,11.65],[8.05,11.95],[8.1,12.3],[8.05,12.6],[8.35,9.85],[8.3,10.2],[8.35,10.5],[8.3,10.85],[8.35,11.15],[8.3,11.5],[8.35,11.8],[8.3,12.15],[8.35,12.45],[8.3,12.75],[8.6,9.9],[8.65,10.3],[8.6,10.65],[8.65,10.95],[8.6,11.3],[8.65,11.6],[8.6,11.95],[8.65,12.25],[8.6,12.6],[8.85,9.8],[8.9,10.1],[8.85,10.45],[8.9,10.75],[8.85,11.1],[8.9,11.4],[8.85,11.75],[8.9,12.05],[8.85,12.4],[8.9,12.65],[9.1,9.95],[9.15,10.3],[9.1,10.6],[9.15,10.95],[9.1,11.25],[9.15,11.6],[9.1,11.9],[9.15,12.25],[9.1,12.55],[9.15,12.8],[9.35,10.15],[9.4,10.45],[9.35,10.8],[9.4,11.1],[9.35,11.45],[9.4,11.75],[9.35,12.1],[9.4,12.4],[9.35,12.7],[9.6,10.35],[9.65,10.65],[9.6,11],[9.65,11.3],[9.6,11.65],[9.65,11.95],[9.6,12.3],[9.65,12.55],[9.85,10.65],[9.9,10.95],[9.85,11.25],[9.9,11.6],[9.85,11.9],[9.9,12.25],[9.85,12.5],[10.1,11.1],[10.15,11.45],[10.1,11.75],[10.15,12.1],[10.1,12.4],[10.35,11.6],[10.4,11.95],[10.35,12.3],[10.4,12.55],[10.6,11.85],[10.55,12.15],
[7,10],[7,10.45],[7,10.8],[7,11.1],[7.1,11.55],[7.45,10.05],[7.45,10.7],[7.45,11.1],[7.45,11.45],[7.45,11.95],[8,10.1],[8,10.4],[8,10.75],[8,11.05],[8,11.45],[8,11.75],[8,12.1],[8,12.45],[8.5,9.85],[8.55,10.2],[8.5,10.5],[8.55,10.8],[8.5,11.15],[8.55,11.5],[8.5,11.8],[8.55,12.1],[8.5,12.5],[9,9.8],[9,10.15],[9,10.45],[9,10.75],[9,11.1],[9,11.4],[9,11.75],[9,12.05],[9,12.4],[9.5,10.2],[9.5,10.5],[9.5,10.85],[9.5,11.15],[9.5,11.5],[9.5,11.8],[9.5,12.15],[9.5,12.45],[10,10.85],[10,11.15],[10,11.5],[10,11.8],[10,12.15],[10,12.45],[7.75,10.05],[7.7,10.4],[7.75,10.7],[7.7,11.05],[7.75,11.35],[7.7,11.7],[7.75,12],[8.25,9.95],[8.25,10.3],[8.25,10.6],[8.25,10.95],[8.25,11.25],[8.25,11.6],[8.25,11.9],[8.25,12.25],[8.75,9.95],[8.75,10.3],[8.75,10.65],[8.75,11],[8.75,11.3],[8.75,11.6],[8.75,11.95],[8.75,12.3],[9.25,9.95],[9.25,10.35],[9.25,10.65],[9.25,11],[9.25,11.3],[9.25,11.65],[9.25,11.95],[9.25,12.3],[9.25,12.6],[9.75,10.45],[9.75,10.8],[9.75,11.1],[9.75,11.45],[9.75,11.75],[9.75,12.1],[9.75,12.4]];

const pdgfa = [[-6.6,9],[-6.6,7.18],[-6.6,5.85],[9.45,8.87],[9.6,7.17],[-0.25,12.78],[-0.9,12.05],[1.45,11.78],[3.45,11.95],[8.05,11.42],[2.15,10.7],[5.85,10.7],[3.7,10.38],[4.2,10.42],[4.2,10.25],[4.7,10.3],[5.15,10.38],[3.5,10.05],[3.75,10.12],[3.05,10],[6.35,9.93],[0.25,9.83],[2.55,9.85],[5.6,9.78],[7.2,9.82],[7.1,9.7],[8.05,9.55],[7.6,9.35],[6.9,9.42],[1,9.35],[1.4,9.45],[1.75,9.65],[1.7,9.5],[2.4,9.7],[-0.3,9.07],[0.2,8.9],[1.3,9.07],[0.85,8.75],[1,8.9],[-1.05,8.38],[0.35,8.33],[0.6,7.87],[0.7,7.9],[0.9,8.25],[0.9,8.1],[-1.1,7.75],[-0.2,7.55],[-0.85,6.9],[1,7.1],[1.2,7.35],[0.6,6.55],[1.25,6.75],[1.45,6.65],[1.95,6.55],[2.7,6.55],[2.55,6.2],[2.4,5.8],[2.95,5.85],[3.05,5.68],[3.3,5.58],[3.95,5.95],[4.05,6.07],[5.05,6.1],[5,6.2],[5.55,6.25],[5.6,5.82],[5.3,5.45],[6.25,5.5],[7.1,5.75],[7.95,6.03],[8.2,5.85],[2.6,4.17],[6.85,6.35],[6.9,6.38],[7,6.8],[7.2,6.8],[7.65,6.85],[7.65,7.2],[7.3,7.4],[7.6,7.6],[7.85,7.75],[8.15,7.9],[8.05,8.03],[8.2,8.28],[7.85,8.43],[7.4,8.45],[7.1,8.8],[7.2,9],[7.1,9.1],[1.5,8.6],[1.35,8.3],[1.1,8.2],[1.4,7.9],[1.3,7.6],[1.35,7.3],[1.6,7.2],[1.9,6.95],[2.3,6.8],[2.6,6.7],[5.6,6.6],[6,6.55],[6.8,7.2],[6.95,7.6],
[1.75,7.5],[1.8,7.85],[1.75,8.2],[1.8,8.5],[1.85,8.85],[2.2,7.1],[2.15,7.45],[2.25,7.8],[2.15,8.15],[2.25,8.45],[2.15,8.8],[2.25,9.1],[2.6,7.05],[2.55,7.35],[2.65,7.7],[2.55,8],[2.65,8.35],[2.55,8.65],[2.65,9],[2.55,9.3],[3,6.85],[2.95,7.2],[3.05,7.55],[2.95,7.85],[3.05,8.2],[2.95,8.5],[3.05,8.85],[2.95,9.15],[3.05,9.5],[3.4,6.65],[3.35,7],[3.45,7.35],[3.35,7.65],[3.45,8],[3.35,8.3],[3.45,8.65],[3.35,8.95],[3.45,9.3],[3.4,9.6],[3.8,6.4],[3.75,6.8],[3.85,7.15],[3.75,7.5],[3.85,7.85],[3.75,8.15],[3.85,8.5],[3.75,8.8],[3.85,9.15],[3.75,9.45],[4.2,6.45],[4.15,6.85],[4.25,7.2],[4.15,7.55],[4.25,7.9],[4.15,8.2],[4.25,8.55],[4.15,8.85],[4.25,9.2],[4.2,9.55],[4.6,6.5],[4.55,6.9],[4.65,7.25],[4.55,7.6],[4.65,7.95],[4.55,8.25],[4.65,8.6],[4.55,8.9],[4.65,9.25],[4.55,9.55],[5,6.55],[4.95,6.9],[5.05,7.25],[4.95,7.6],[5.05,7.95],[4.95,8.25],[5.05,8.6],[4.95,8.9],[5.05,9.25],[5,9.6],[5.4,6.75],[5.35,7.1],[5.45,7.4],[5.35,7.75],[5.45,8.1],[5.35,8.4],[5.45,8.75],[5.35,9.05],[5.45,9.35],[5.6,9.55],[5.8,6.85],[5.75,7.25],[5.85,7.6],[5.75,7.95],[5.85,8.25],[5.75,8.6],[5.85,8.9],[5.75,9.2],[6.2,7],[6.15,7.4],[6.25,7.75],[6.15,8.05],[6.25,8.4],[6.15,8.7],[6.25,9.1],[6.6,7.15],[6.55,7.5],[6.65,7.85],[6.55,8.15],[6.65,8.5],[6.6,8.85],[6.95,7.9],[7,8.2],[6.95,8.55],[7.3,8.25],[7.25,7.8]];
const pdgfaFill = [[2,7.3],[1.95,7.65],[2,8],[1.95,8.35],[2,8.7],[1.95,9],[2.4,7.25],[2.35,7.6],[2.4,7.95],[2.35,8.3],[2.4,8.6],[2.35,8.95],[2.4,9.25],[2.8,6.95],[2.75,7.35],[2.8,7.7],[2.75,8.05],[2.8,8.4],[2.75,8.7],[2.8,9.05],[2.75,9.4],[3.2,6.8],[3.15,7.1],[3.2,7.45],[3.15,7.8],[3.2,8.15],[3.15,8.45],[3.2,8.8],[3.15,9.1],[3.2,9.4],[3.6,6.5],[3.55,6.85],[3.6,7.2],[3.55,7.5],[3.6,7.85],[3.55,8.2],[3.6,8.5],[3.55,8.85],[3.6,9.15],[3.55,9.5],[4,6.6],[3.95,6.95],[4,7.35],[3.95,7.7],[4,8.05],[3.95,8.35],[4,8.7],[3.95,9],[4,9.35],[3.95,9.65],[4.4,6.65],[4.35,7.05],[4.4,7.4],[4.35,7.75],[4.4,8.1],[4.35,8.4],[4.4,8.75],[4.35,9.05],[4.4,9.4],[4.35,9.7],[4.8,6.7],[4.75,7.1],[4.8,7.45],[4.75,7.8],[4.8,8.1],[4.75,8.45],[4.8,8.75],[4.75,9.1],[4.8,9.4],[5.2,6.85],[5.15,7.25],[5.2,7.6],[5.15,7.9],[5.2,8.25],[5.15,8.6],[5.2,8.9],[5.15,9.2],[5.2,9.55],[5.6,7.05],[5.55,7.4],[5.6,7.75],[5.55,8.1],[5.6,8.4],[5.55,8.75],[5.6,9.05],[5.55,9.35],[6,7.2],[5.95,7.55],[6,7.9],[5.95,8.25],[6,8.55],[5.95,8.85],[6,9.1],[6.4,7.3],[6.35,7.65],[6.4,8],[6.35,8.3],[6.4,8.65],[6.35,8.95],[6.8,7.4],[6.75,7.7],[6.8,8.05],[6.75,8.35],[6.8,8.7]];

const pdgfb = [[-6.6,9.98],[-6.6,7.8],[-6.6,6.8],[9.45,9.02],[9.6,7.98],[4.05,12.62],[2.7,12.42],[6.35,12.38],[5,12.3],[1.3,12.02],[2.9,11.97],[3,12.03],[5,12.05],[4.1,12.08],[4.45,12.03],[4.45,11.9],[3.95,11.87],[4.05,11.9],[6,11.88],[3.05,11.8],[3.2,11.85],[3.1,11.75],[3,11.7],[2.55,11.65],[3.1,11.55],[3.85,11.67],[4.2,11.68],[4.45,11.68],[4.65,11.75],[0.9,11.53],[4.15,11.47],[6,11.48],[-0.3,11.02],[1.75,11.22],[1.9,11.25],[2.2,11.32],[2.8,11.3],[3.3,11.3],[3.75,11.35],[4.55,11.3],[5.05,11.35],[5.1,11.25],[5.05,11.12],[6.05,11.15],[6.25,11.1],[5.85,11.1],[1.5,10.85],[1.85,10.9],[2.1,11],[7.65,10.73],[7.2,10.62],[7.35,10.47],[6.85,10.47],[6.4,10.5],[6.6,10.48],[1,10.45],[1.1,10.4],[1.45,10.38],[1,10.32],[0.65,10.08],[0.9,9.95],[1.25,10.2],[1.4,10.05],[1.4,10.1],[0.25,9.77],[1.05,9.75],[8.25,10.23],[7.5,10],[8.05,9.95],[8.15,9.6],[8,9.55],[7.95,9.5],[7.3,9.7],[7.15,9.8],[0.8,9.45],[0.25,9.4],[-0.2,9.3],[-0.9,9.37],[-1.05,9.32],[-0.25,9.18],[-1.1,8.93],[0.55,8.85],[0.35,8.75],[0.6,8.53],[1.35,8.78],[1.75,8.8],[1.35,8.33],[1.55,8.4],[1.6,8.55],[2,8.3],[2.1,8.15],[2.45,8.4],[2.5,8.6],[2.55,8.7],[2.9,8.2],[3,8.4],[3.2,8.3],[3.4,8.2],[3.7,8.1],[4,8.2],[4.3,8.05],[4.5,8.1],[4.7,8.15],[5,8.05],[5.25,8.25],[5.3,8.15],[-0.8,7.68],[1.35,7.72],[2.5,7.9],[2.75,7.97],[2.5,7.75],[3.3,7.9],[3.7,7.97],[3.65,7.65],[4.6,7.48],[4.75,7.45],[5.5,7.4],[5.55,7.77],[5.6,7.8],[5.85,7.85],[6.25,7.97],[6.25,7.58],[6.75,7.56],[6.95,7.95],[7.25,7.88],[7.4,7.95],[8.2,7.85],[6,7.08],[3.6,6.9],[2.6,6.67],[6.9,8.38],[7.15,8.42],[7.9,8.5],[6.5,8.6],[7.3,8.62],[7.35,8.75],[7.35,8.85],[6.7,8.78],[7.5,9],[7.9,9.2],[7.55,9.25],[7.8,9.3],[1.2,9.2],[1.4,9.15],[1.7,9.1],[1.5,9.7],[2.05,8.6],[2.1,8.8],[2.3,8.55],[6.4,10.9],[6.1,10.7],[5.5,10.8],[1.7,9.45],
[2,9.15],[1.95,9.5],[2,9.85],[2.4,9],[2.35,9.3],[2.45,9.65],[2.35,9.95],[2.45,10.25],[2.35,10.6],[2.8,8.85],[2.75,9.2],[2.85,9.5],[2.75,9.8],[2.85,10.15],[2.75,10.45],[2.85,10.75],[3.2,8.65],[3.15,9],[3.25,9.3],[3.15,9.6],[3.25,9.9],[3.15,10.2],[3.25,10.55],[3.15,10.85],[3.25,11.05],[3.6,8.45],[3.55,8.8],[3.65,9.1],[3.55,9.4],[3.65,9.75],[3.55,10.05],[3.65,10.35],[3.55,10.65],[3.65,10.95],[4,8.5],[3.95,8.85],[4.05,9.15],[3.95,9.45],[4.05,9.8],[3.95,10.1],[4.05,10.4],[3.95,10.7],[4.05,11],[4.4,8.45],[4.35,8.8],[4.45,9.1],[4.35,9.4],[4.45,9.75],[4.35,10.05],[4.45,10.35],[4.35,10.65],[4.45,10.95],[4.8,8.5],[4.75,8.85],[4.85,9.15],[4.75,9.45],[4.85,9.8],[4.75,10.1],[4.85,10.4],[4.75,10.7],[4.85,11],[5.2,8.55],[5.15,8.9],[5.25,9.2],[5.15,9.5],[5.25,9.85],[5.15,10.15],[5.25,10.45],[5.15,10.75],[5.6,8.6],[5.55,8.95],[5.65,9.25],[5.55,9.55],[5.65,9.9],[5.55,10.2],[5.65,10.5],[6,8.55],[5.95,8.9],[6.05,9.2],[5.95,9.5],[6.05,9.85],[5.95,10.15],[6.05,10.45],[6.4,8.85],[6.35,9.15],[6.45,9.45],[6.35,9.75],[6.45,10.1],[6.8,9.05],[6.75,9.35],[6.85,9.65],[6.75,9.95],[6.85,10.2],[7.15,9.35],[7.1,9.05],[7.2,9.6]];
const pdgfbFill = [[2.2,9.2],[2.15,9.5],[2.2,9.8],[2.15,10.1],[2.2,10.4],[2.6,9],[2.55,9.35],[2.6,9.65],[2.55,9.95],[2.6,10.3],[2.55,10.6],[3,8.95],[2.95,9.3],[3,9.6],[2.95,9.9],[3,10.25],[2.95,10.55],[3,10.85],[3.4,8.6],[3.35,8.95],[3.4,9.25],[3.35,9.55],[3.4,9.85],[3.35,10.2],[3.4,10.5],[3.35,10.8],[3.8,8.65],[3.75,9],[3.8,9.3],[3.75,9.6],[3.8,9.95],[3.75,10.25],[3.8,10.55],[3.75,10.85],[3.8,11.1],[4.2,8.65],[4.15,8.95],[4.2,9.3],[4.15,9.6],[4.2,9.9],[4.15,10.25],[4.2,10.55],[4.15,10.85],[4.6,8.65],[4.55,9],[4.6,9.3],[4.55,9.6],[4.6,9.95],[4.55,10.25],[4.6,10.55],[4.55,10.85],[5,8.7],[4.95,9],[5,9.35],[4.95,9.65],[5,9.95],[4.95,10.3],[5,10.6],[4.95,10.9],[5.4,8.75],[5.35,9.05],[5.4,9.4],[5.35,9.7],[5.4,10],[5.35,10.35],[5.4,10.65],[5.8,8.8],[5.75,9.1],[5.8,9.4],[5.75,9.7],[5.8,10.05],[5.75,10.35],[5.8,10.65],[6.2,8.95],[6.15,9.3],[6.2,9.6],[6.15,9.95],[6.2,10.25],[6.6,9.2],[6.55,9.5],[6.6,9.85],[6.55,10.1],[7,9.25],[6.95,9.55],[7,9.85],
[2.05,9.3],[2.05,9.65],[2.1,10],[2.1,10.3],[2.5,9.15],[2.45,9.45],[2.5,9.8],[2.5,10.1],[2.5,10.45],[2.9,9.05],[2.9,9.4],[2.9,9.7],[2.9,10],[2.9,10.35],[2.9,10.65],[5.7,9.05],[5.75,8.75],[6.1,8.7],[6.1,9.05],[6.15,9.4],[6.1,9.7],[6.15,10],[6.1,10.3],[6.5,9],[6.5,9.3],[6.5,9.65],[6.5,9.95],[6.3,10.35],[6.9,9.2],[6.9,9.5],[6.9,9.8],[6.9,10.05],[7.2,9.25],[7.25,9.5],[7.2,9.8],[7.5,9.55],[7.5,9.2],[6.9,8.95],[7.2,9.05]];

type Panel = { letter: string; lx: number; ly: number; yName: string; xName: string; nx: number; ny: number; tx: number; ty: number;
  left: number; top: number; right: number; bottom: number; xRange: number[]; yRange: number[]; xTicks: number[]; yTicks: number[]; points: number[][] };

const panels: Panel[] = [
  { letter: "A", lx: 3, ly: 10, yName: "CD8A", xName: "CD274", nx: 188.7, ny: 320, tx: 14, ty: 150, left: 44.7, top: 16, right: 319, bottom: 290.7, xRange: [-8.95, 11.8], yRange: [-9.3, 14.4], xTicks: cd274Ticks, yTicks: ticksA, points: [...cd8a, ...cd8aFill] },
  { letter: "B", lx: 330, ly: 10, yName: "PDCD1", xName: "CD274", nx: 511.3, ny: 320, tx: 339, ty: 156, left: 371.3, top: 16.7, right: 646, bottom: 291.7, xRange: [-8.98, 11.85], yRange: [-8.94, 11.9], xTicks: cd274Ticks, yTicks: ticksB, points: [...pdcd1, ...pdcd1Fill] },
  { letter: "C", lx: 3, ly: 309, yName: "LAG3", xName: "CD274", nx: 188.7, ny: 615, tx: 14, ty: 441, left: 44.7, top: 308, right: 318, bottom: 585, xRange: [-8.96, 11.85], yRange: [-3.13, 13.65], xTicks: cd274Ticks, yTicks: ticksC, points: [...lag3, ...lag3Fill] },
  { letter: "D", lx: 330, ly: 309, yName: "PDPN", xName: "CD274", nx: 511, ny: 615, tx: 339, ty: 446, left: 372, top: 308, right: 648.7, bottom: 583.7, xRange: [-8.98, 11.9], yRange: [1.62, 13.25], xTicks: cd274Ticks, yTicks: ticksD, points: [...pdpn, ...pdpnFill] },
  { letter: "E", lx: 3, ly: 614, yName: "CD68", xName: "CD274", nx: 188.7, ny: 925, tx: 14, ty: 748, left: 44.7, top: 622, right: 319.3, bottom: 897.3, xRange: [-8.95, 11.85], yRange: [6.93, 15.39], xTicks: cd274Ticks, yTicks: ticksE, points: [...cd68a, ...cd68aFill] },
  { letter: "F", lx: 330, ly: 614, yName: "CD68", xName: "PDPN", nx: 510, ny: 925, tx: 339, ty: 748, left: 369.3, top: 620, right: 647.7, bottom: 896.7, xRange: [1.62, 13.23], yRange: [6.95, 15.32], xTicks: pdpnTicks, yTicks: ticksF, points: [...cd68b, ...cd68bFill] },
  { letter: "G", lx: 3, ly: 926, yName: "PDGFA", xName: "CD274", nx: 188.7, ny: 1247, tx: 14, ty: 1068, left: 44.7, top: 938, right: 318, bottom: 1214, xRange: [-8.96, 11.9], yRange: [2.93, 14.1], xTicks: cd274Ticks, yTicks: ticksG, points: [...pdgfa, ...pdgfaFill] },
  { letter: "H", lx: 330, ly: 926, yName: "PDGFB", xName: "CD274", nx: 511, ny: 1247, tx: 339, ty: 1067, left: 365.3, top: 936.7, right: 643.7, bottom: 1213.3, xRange: [-8.98, 11.95], yRange: [5.84, 13.46], xTicks: cd274Ticks, yTicks: ticksH, points: [...pdgfb, ...pdgfbFill] },
];

const AXIS = "#7a7a7a";
const axisCommon = (r: number[], ticks: number[]) => ({
  type: "value", min: r[0], max: r[1], scale: true,
  axisLine: { show: true, onZero: false, lineStyle: { color: AXIS, width: 1.5 } },
  axisTick: { show: true, length: 3, customValues: ticks, lineStyle: { color: AXIS, width: 1 } },
  axisLabel: { customValues: ticks, color: "#444", fontSize: 9.5, fontFamily: FONT, margin: 5, showMinLabel: true, showMaxLabel: true },
  splitLine: { show: true, lineStyle: { color: "#f3f3f3", type: "dashed", width: 1 } },
});

export default function App() {
  const ref = useRef<HTMLDivElement>(null);
  useEffect(() => {
    const chart = echarts.init(ref.current!, undefined, { renderer: "svg" });
    const text = (t: string, x: number, y: number, size: number, weight: string, rot = 0) => ({
      type: "text", x, y, rotation: rot, silent: true, z: 100,
      style: { text: t, fontSize: size, fontWeight: weight, fontFamily: FONT, fill: "#111", align: "center", verticalAlign: "middle" },
    });
    chart.setOption({
      animation: false,
      backgroundColor: "#fff",
      grid: panels.map((p) => ({ left: p.left, top: p.top, width: p.right - p.left, height: p.bottom - p.top })),
      xAxis: panels.map((p, i) => ({ ...axisCommon(p.xRange, p.xTicks), gridIndex: i })),
      yAxis: panels.map((p, i) => ({ ...axisCommon(p.yRange, p.yTicks), gridIndex: i })),
      series: panels.map((p, i) => ({
        type: "scatter", name: p.yName, xAxisIndex: i, yAxisIndex: i, data: p.points, symbolSize: 6.8, clip: false,
        itemStyle: { color: "#5b9bd8", borderColor: "#3a76b8", borderWidth: 0.9, opacity: 1 },
      })),
      graphic: panels.flatMap((p) => [
        { ...text(p.letter, p.lx + 7.5, p.ly, 20, "bold") },
        { ...text(p.xName, p.nx, p.ny, 27, "normal") },
        { ...text(p.yName, p.tx, p.ty, 27, "normal", Math.PI / 2) },
      ]),
    });
    return () => chart.dispose();
  }, []);
  return <div ref={ref} style={{ position: "absolute", left: 0, top: 0, width: 653, height: 1261 }} />;
}
